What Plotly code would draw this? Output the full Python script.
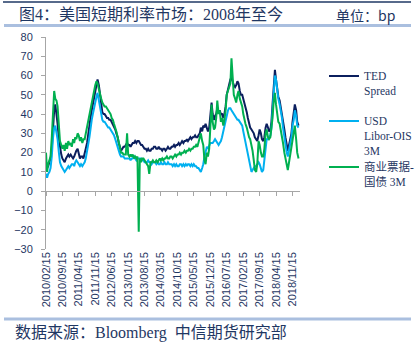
import pandas as pd
import plotly.graph_objects as go

# Semi-monthly observations (1st and 15th of each month), in basis points
dates = pd.date_range("2010-02-15", "2019-02-01", freq="SMS")

ted_spread = [
    # 2010
    14, 12, 13, 15, 17, 22, 33, 42, 45, 40, 35, 27, 22, 19, 17, 16, 15, 17, 18, 19, 18,
    # 2011
    19, 18, 17, 18, 20, 21, 22, 20, 17, 18, 18, 17, 19, 22, 25, 30, 34, 38, 42, 45, 48, 52, 55, 58,
    # 2012
    55, 50, 44, 41, 40, 40, 39, 38, 38, 37, 37, 36, 35, 34, 32, 30, 28, 25, 23, 21, 22, 23, 23, 24,
    # 2013
    25, 24, 24, 23, 24, 25, 25, 26, 25, 26, 26, 25, 24, 24, 23, 22, 22, 21, 22, 21, 21, 22, 22, 23,
    # 2014
    23, 22, 22, 23, 22, 22, 21, 22, 22, 21, 22, 23, 22, 22, 23, 23, 24, 23, 24, 24, 25, 24, 25, 26,
    # 2015
    25, 26, 26, 27, 26, 27, 28, 27, 28, 28, 29, 28, 28, 29, 30, 33, 31, 34, 33, 35, 32, 31, 33, 38,
    # 2016
    46, 40, 37, 39, 40, 43, 41, 42, 40, 40, 38, 40, 44, 50, 53, 56, 58, 59, 56, 55, 54, 55, 57, 56,
    # 2017
    52, 50, 50, 48, 46, 43, 41, 38, 35, 33, 32, 31, 30, 28, 27, 26, 29, 32, 30, 27, 26, 28, 33, 35,
    # 2018
    33, 31, 32, 36, 45, 55, 63, 58, 52, 49, 47, 44, 40, 36, 32, 28, 23, 21, 24, 27, 30, 36, 40, 45,
    # 2019
    42, 36, 34,
]

libor_ois_3m = [
    # 2010
    9, 7, 9, 10, 12, 18, 27, 33, 34, 31, 27, 20, 15, 13, 12, 11, 10, 11, 12, 13, 12,
    # 2011
    13, 14, 14, 13, 15, 16, 15, 14, 13, 14, 13, 14, 15, 17, 20, 24, 28, 33, 37, 40, 44, 47, 49, 51,
    # 2012
    47, 43, 39, 37, 36, 36, 35, 34, 33, 33, 32, 31, 30, 29, 27, 25, 23, 21, 19, 18, 18, 18, 17, 17,
    # 2013
    17, 17, 17, 16, 17, 17, 18, 17, 16, 17, 17, 17, 17, 16, 16, 15, 15, 15, 16, 15, 15, 14, 15, 15,
    # 2014
    15, 14, 15, 14, 14, 15, 14, 14, 15, 14, 14, 15, 14, 14, 14, 13, 14, 13, 14, 13, 13, 14, 14, 13,
    # 2015
    14, 13, 14, 13, 14, 14, 13, 14, 13, 14, 13, 13, 12, 12, 11, 10, 12, 14, 18, 21, 23, 22, 24, 25,
    # 2016
    25, 25, 26, 27, 26, 25, 24, 25, 26, 28, 31, 34, 36, 40, 42, 43, 43, 42, 41, 40, 39, 38, 37, 37,
    # 2017
    36, 35, 34, 31, 28, 25, 23, 20, 16, 12, 10, 11, 12, 13, 13, 14, 15, 14, 12, 10, 11, 15, 22, 27,
    # 2018
    27, 28, 29, 33, 42, 52, 60, 58, 52, 48, 45, 42, 38, 33, 28, 25, 20, 18, 22, 25, 28, 34, 37, 42,
    # 2019
    39, 34, 33,
]

cp_minus_bill_3m = [
    # 2010
    20, 10, 14, 16, 18, 28, 40, 52, 48, 47, 44, 32, 26, 24, 22, 24, 21, 25, 22, 26, 24,
    # 2011
    25, 23, 27, 25, 28, 27, 30, 29, 26, 28, 25, 27, 27, 30, 33, 37, 40, 44, 47, 50, 52, 55, 57, 56,
    # 2012
    53, 50, 48, 46, 45, 44, 44, 43, 42, 41, 40, 38, 37, 35, 33, 31, 28, 25, 22, 20, 20, 19, 19, 19,
    # 2013
    30, 19, 18, 19, 18, 19, 17, 18, 17, 18, -21, 17, 15, 17, 17, 16, 15, 14, 13, 9, 15, 15, 16, 15,
    # 2014
    15, 16, 15, 16, 17, 16, 17, 16, 17, 17, 18, 17, 17, 18, 18, 17, 18, 19, 18, 19, 19, 20, 19, 20,
    # 2015
    20, 21, 20, 21, 21, 22, 21, 22, 22, 23, 23, 24, 23, 25, 27, 30, 26, 24, 16, 14, 20, 18, 22, 30,
    # 2016
    45, 36, 32, 33, 38, 47, 40, 42, 36, 38, 34, 37, 42, 50, 52, 54, 56, 69, 54, 50, 48, 46, 50, 52,
    # 2017
    48, 46, 44, 40, 37, 35, 33, 30, 28, 27, 24, 21, 16, 11, 10, 14, 26, 24, 20, 18, 18, 22, 30, 32,
    # 2018
    28, 27, 28, 32, 38, 46, 51, 45, 40, 36, 35, 32, 29, 25, 20, 17, 12, 11, 15, 19, 22, 28, 30, 34,
    # 2019
    27, 20, 17,
]

tick_labels = [
    "2010/02/15", "2010/09/15", "2011/04/15", "2011/11/15", "2012/06/15",
    "2013/01/15", "2013/08/15", "2014/03/15", "2014/10/15", "2015/05/15",
    "2015/12/15", "2016/07/15", "2017/02/15", "2017/09/15", "2018/04/15",
    "2018/11/15",
]
tick_dates = [t.replace("/", "-") for t in tick_labels]

series_names = ["TED<br>Spread", "USD<br>Libor-OIS<br>3M", "商业票据-<br>国债 3M"]
series_colors = ["#0b1f5e", "#00b0f0", "#00b050"]

x_range = ["2010-02-15", "2019-02-20"]
navy_text = "#1f3763"
axis_grey = "#a6a6a6"
serif = "Liberation Serif, Noto Sans CJK SC, serif"
sans = "Liberation Sans, Arial, sans-serif"

fig = go.Figure()

legend_ids = ["legend", "legend2", "legend3"]
for name, values, color, lg in zip(series_names,
                                   [ted_spread, libor_ois_3m, cp_minus_bill_3m],
                                   series_colors, legend_ids):
    fig.add_trace(go.Scatter(
        x=dates, y=values, mode="lines", name=name,
        line=dict(color=color, width=2),
        legend=lg, hoverinfo="skip",
    ))

# carrier trace for the axis drawn along y = 0
fig.add_trace(go.Scatter(x=[dates[0]], y=[None], xaxis="x2", showlegend=False,
                         hoverinfo="skip"))

y_min, y_max = -30, 80
zero_pos = (0 - y_min) / (y_max - y_min)

fig.update_layout(
    width=415, height=344, autosize=False,
    margin=dict(l=46, r=115, t=37, b=95, autoexpand=False),
    paper_bgcolor="white", plot_bgcolor="white",
    xaxis=dict(
        type="date", range=x_range,
        tickmode="array", tickvals=tick_dates, ticktext=tick_labels,
        tickangle=-90, ticks="", showline=False, showgrid=False, zeroline=False,
        tickfont=dict(family=sans, size=11, color=navy_text),
        automargin=False,
    ),
    xaxis2=dict(
        type="date", range=x_range, overlaying="x", anchor="free", position=zero_pos,
        tickmode="array", tickvals=tick_dates, showticklabels=False,
        ticks="outside", ticklen=4, tickcolor=axis_grey, tickwidth=1,
        showline=True, linecolor=axis_grey, linewidth=1,
        showgrid=False, zeroline=False,
    ),
    yaxis=dict(
        range=[y_min, y_max], dtick=10, tick0=0,
        ticks="outside", ticklen=4, tickcolor=axis_grey,
        showline=True, linecolor=axis_grey, linewidth=1,
        showgrid=False, zeroline=False,
        tickfont=dict(family=sans, size=11, color=navy_text),
        ticklabelstandoff=6, automargin=False,
    ),
    showlegend=True,
)

legend_style = dict(
    xanchor="left", yanchor="top", valign="top",
    bgcolor="rgba(0,0,0,0)", borderwidth=0,
    font=dict(family=serif, size=11.5, color=navy_text),
    itemclick=False, itemdoubleclick=False,
)
legend_tops = [62, 107, 153]  # pixel rows of each legend block
for lg, top in zip(legend_ids, legend_tops):
    fig.update_layout({lg: dict(x=(324 - 46) / 254, y=(249 - top) / 212, **legend_style)})


def px_x(px):
    return (px - 46) / 254


def px_y(py):
    return (249 - py) / 212


fig.add_annotation(text="图4：美国短期利率市场：2008年至今", xref="paper", yref="paper",
                   x=px_x(17), y=px_y(15), xanchor="left", yanchor="middle",
                   showarrow=False, font=dict(family=serif, size=16, color=navy_text))
fig.add_annotation(text="单位：bp", xref="paper", yref="paper",
                   x=px_x(397), y=px_y(15), xanchor="right", yanchor="middle",
                   showarrow=False, font=dict(family="Noto Sans CJK SC, sans-serif", size=14, color=navy_text))
fig.add_annotation(text="数据来源：Bloomberg  中信期货研究部", xref="paper", yref="paper",
                   x=px_x(13), y=px_y(333), xanchor="left", yanchor="middle",
                   showarrow=False, font=dict(family=serif, size=16, color=navy_text))

# header and footer rules
fig.add_shape(type="line", xref="paper", yref="paper", x0=px_x(3), x1=px_x(411),
              y0=px_y(2), y1=px_y(2), line=dict(color="#1f3864", width=1.5))
fig.add_shape(type="line", xref="paper", yref="paper", x0=px_x(4), x1=px_x(411),
              y0=px_y(25.5), y1=px_y(25.5), line=dict(color="#aabfdf", width=3))
fig.add_shape(type="line", xref="paper", yref="paper", x0=px_x(4), x1=px_x(411),
              y0=px_y(319), y1=px_y(319), line=dict(color="#aabfdf", width=3))

fig.write_html("out.html")
